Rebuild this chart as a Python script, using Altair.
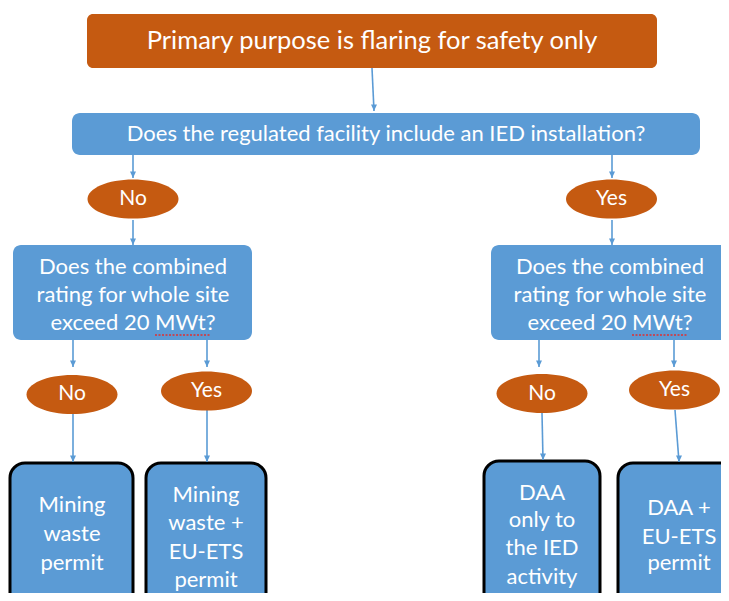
import altair as alt
import pandas as pd

ORANGE = "#C55A11"
BLUE = "#5B9BD5"
FONT = "Lato"

# ---- boxes (page-pixel coordinates) ----
top_box = dict(x1=[87], x2=[657], y1=[14], y2=[68])
q_box_x1 = [72, 13, 491]
q_box_x2 = [700, 252, 740]
q_box_y1 = [113, 245, 245]
q_box_y2 = [155, 340, 340]
end_box_x1 = [10, 146, 484, 618]
end_box_x2 = [133, 266, 600, 745]
end_box_y1 = [463, 463, 461, 463]
end_box_y2 = [640, 640, 640, 640]

# ---- decision ellipses ----
ell_label = ["No", "Yes", "No", "Yes", "No", "Yes"]
ell_x = [133, 611.5, 72, 206.5, 542, 674.5]
ell_y = [199, 199, 394.5, 391, 393.5, 390]
ell_lx = [133, 611.5, 72, 206.5, 542, 674.5]
ell_ly = [199, 199, 394, 391, 394, 390]

# ---- arrows ----
arr_x1 = [372, 133, 612, 133, 612, 73, 207, 539, 674, 73, 207, 542, 675]
arr_y1 = [68, 155, 155, 220, 220, 340, 340, 340, 340, 413, 410, 413, 410]
arr_x2 = [374, 133, 612, 133, 612, 73, 207, 539, 674, 73, 207, 543, 679]
arr_y2 = [111, 178, 178, 245, 245, 367, 367, 367, 367, 462, 462, 460, 462]

# ---- text lines ----
txt = [
    "Primary purpose is flaring for safety only",
    "Does the regulated facility include an IED installation?",
    "Does the combined", "rating for whole site", "exceed 20 MWt?",
    "Does the combined", "rating for whole site", "exceed 20 MWt?",
    "Mining", "waste", "permit",
    "Mining", "waste +", "EU-ETS", "permit",
    "DAA", "only to", "the IED", "activity",
    "DAA +", "EU-ETS", "permit",
]
txt_x = [372, 386,
         133, 133, 133,
         610, 610, 610,
         72, 72, 72,
         206, 206, 206, 206,
         542, 542, 542, 542,
         679, 679, 679]
txt_y = [41, 134,
         267, 295, 323,
         267, 295, 323,
         505, 534, 563,
         495, 523, 552, 580,
         493, 520, 548, 577,
         508, 537, 563]
txt_fs = [25.5, 22,
          22, 22, 22,
          22, 22, 22,
          22, 22, 22,
          22, 22, 22, 22,
          22, 22, 22, 22,
          22, 22, 22]

# spell-check squiggles under "MWt"
sq_x1 = [155, 632]
sq_x2 = [210, 688]
sq_y = [335, 335]

xs = alt.Scale(domain=[8, 721], nice=False, zero=False)
ys = alt.Scale(domain=[8, 593], nice=False, zero=False, reverse=True)

def XY(xf, yf):
    return dict(x=alt.X(xf, type="quantitative", scale=xs, axis=None),
                y=alt.Y(yf, type="quantitative", scale=ys, axis=None))

top_df = pd.DataFrame(top_box)
q_df = pd.DataFrame(dict(x1=q_box_x1, x2=q_box_x2, y1=q_box_y1, y2=q_box_y2))
e_df = pd.DataFrame(dict(x1=end_box_x1, x2=end_box_x2, y1=end_box_y1, y2=end_box_y2))
ell_df = pd.DataFrame(dict(label=ell_label, x=ell_x, y=ell_y, lx=ell_lx, ly=ell_ly))
arr_df = pd.DataFrame(dict(x1=arr_x1, y1=arr_y1, x2=arr_x2, y2=arr_y2))
txt_df = pd.DataFrame(dict(t=txt, x=txt_x, y=txt_y, fs=txt_fs))
sq_df = pd.DataFrame(dict(x1=sq_x1, x2=sq_x2, y=sq_y))

top_l = alt.Chart(top_df).mark_rect(color=ORANGE, cornerRadius=6, clip=True).encode(
    **XY("x1", "y1"), x2="x2:Q", y2="y2:Q")
q_l = alt.Chart(q_df).mark_rect(color=BLUE, cornerRadius=8, clip=True).encode(
    **XY("x1", "y1"), x2="x2:Q", y2="y2:Q")
e_l = alt.Chart(e_df).mark_rect(fill=BLUE, stroke="black", strokeWidth=3,
                                cornerRadius=15, clip=True).encode(
    **XY("x1", "y1"), x2="x2:Q", y2="y2:Q")

k = 0.5523
b = 0.43
ell_path = (f"M -1 0 C -1 {-b*k:.4f} {-k:.4f} {-b} 0 {-b} "
            f"C {k:.4f} {-b} 1 {-b*k:.4f} 1 0 "
            f"C 1 {b*k:.4f} {k:.4f} {b} 0 {b} "
            f"C {-k:.4f} {b} -1 {b*k:.4f} -1 0 Z")
ell_l = alt.Chart(ell_df).mark_point(shape=ell_path, filled=True, opacity=1,
                                     color=ORANGE, size=8281, clip=True).encode(
    **XY("x", "y"))

arr_l = alt.Chart(arr_df).mark_rule(color=BLUE, strokeWidth=1.6, clip=True).encode(
    **XY("x1", "y1"), x2="x2:Q", y2="y2:Q")
head_path = "M -1 -2.2 L 1 -2.2 L 0 0 Z"
head_l = alt.Chart(arr_df).mark_point(shape=head_path, filled=True, opacity=1,
                                      color=BLUE, size=36, clip=True).encode(
    **XY("x2", "y2"))

sq_l = alt.Chart(sq_df).mark_rule(color="#E03030", strokeWidth=1.5,
                                  strokeDash=[2, 1.5], clip=True).encode(
    **XY("x1", "y"), x2="x2:Q")

txt_l = alt.Chart(txt_df).mark_text(color="white", font=FONT, align="center",
                                    baseline="middle", clip=True).encode(
    **XY("x", "y"), text="t:N", size=alt.Size("fs:Q", scale=None))
ell_txt = alt.Chart(ell_df).mark_text(color="white", font=FONT, align="center",
                                      baseline="middle", fontSize=21, clip=True).encode(
    **XY("lx", "ly"), text="label:N")

chart = alt.layer(top_l, q_l, e_l, arr_l, head_l, ell_l, sq_l, txt_l, ell_txt).properties(
    width=713, height=585, padding=0,
    autosize=alt.AutoSizeParams(type="none"),
).configure_view(stroke=None)

chart.save("out.html", embed_options={"renderer": "svg", "actions": False})
